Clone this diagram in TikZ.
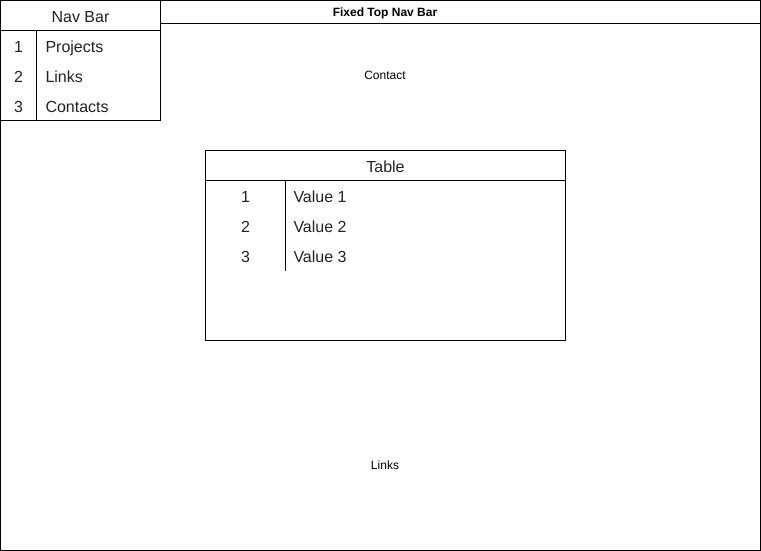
\documentclass[tikz,border=0pt]{standalone}
\usepackage{fontspec}
\setmainfont{Liberation Sans}
\definecolor{txtgray}{HTML}{222222}
\begin{document}
\begin{tikzpicture}[x=1pt,y=-1pt,line width=1pt,
  big/.style={font=\fontsize{16}{19}\selectfont,text=txtgray,inner sep=0pt,text height=11.5pt,text depth=3.4pt},
  small/.style={font=\fontsize{12}{14}\selectfont,inner sep=0pt,text height=8.6pt,text depth=2.5pt},
  bigleft/.style={big,anchor=west}]
\useasboundingbox (0,0) rectangle (761,551);
% outer frame
\draw (0.5,0.5) rectangle (760.5,550.5);
% top nav bar
\draw (160.5,0.5) rectangle (760.5,23.5);
\node[small,font=\fontsize{12}{14}\selectfont\bfseries] (top) at (385,13.5) {Fixed Top Nav Bar};
\node[small] (contact) at (385,76.5) {Contact};
\node[small] (links) at (385,466.5) {Links};
% nav bar list
\draw[fill=white] (0.5,0.5) rectangle (160.5,120.5);
\draw (0.5,30.5) -- (160.5,30.5);
\draw (36.5,30.5) -- (36.5,120.5);
\node[big] (navt) at (80.5,18) {Nav Bar};
\node[big] (n1) at (18.5,48) {1};
\node[big] (n2) at (18.5,78) {2};
\node[big] (n3) at (18.5,108) {3};
\node[bigleft] (p1) at (45,48) {Projects};
\node[bigleft] (p2) at (45,78) {Links};
\node[bigleft] (p3) at (45,108) {Contacts};
% table
\draw (205.5,150.5) rectangle (565.5,340.5);
\draw (205.5,180.5) -- (565.5,180.5);
\draw (285.5,180.5) -- (285.5,270.5);
\node[big] (tt) at (385.5,168.5) {Table};
\node[big] (t1) at (245.5,198) {1};
\node[big] (t2) at (245.5,228) {2};
\node[big] (t3) at (245.5,258) {3};
\node[bigleft] (v1) at (293,198) {Value 1};
\node[bigleft] (v2) at (293,228) {Value 2};
\node[bigleft] (v3) at (293,258) {Value 3};
\end{tikzpicture}
\end{document}
